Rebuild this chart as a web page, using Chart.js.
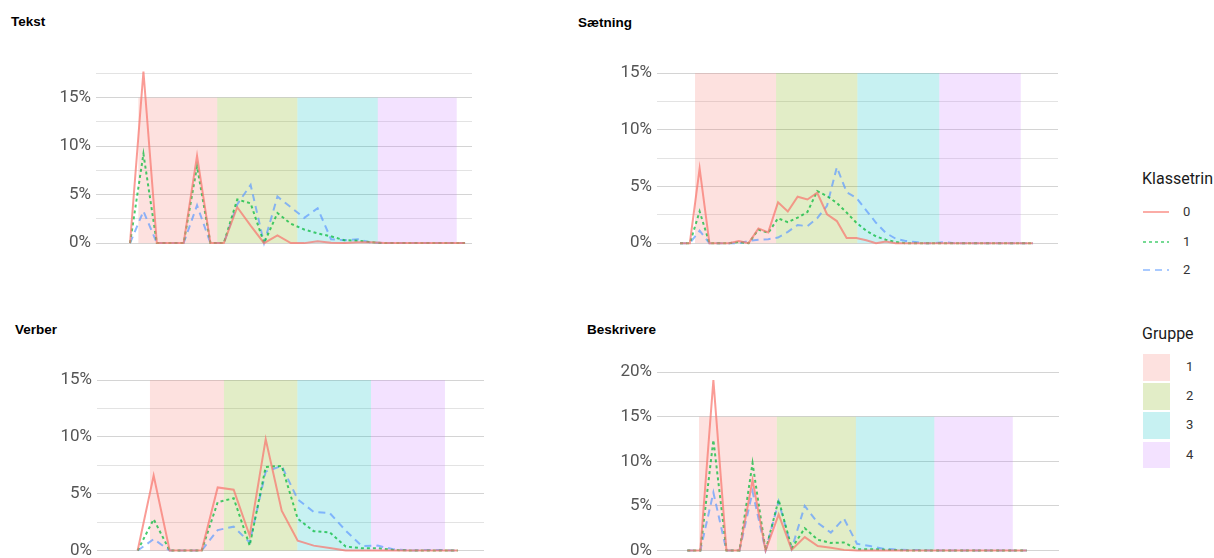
<!DOCTYPE html>
<html lang="da">
<head>
<meta charset="UTF-8">
<title>Klassetrin og grupper</title>
<script src="https://cdn.jsdelivr.net/npm/chart.js"></script>
<style>
  body { margin: 0; background: #fff; }
  #wrap { position: relative; width: 1214px; height: 558px; overflow: hidden; font-family: Roboto, sans-serif; }
  .panel { position: absolute; }
  .title { position: absolute; font: bold 13.5px "Liberation Sans", Arial, sans-serif; line-height: 16px; color: #000; white-space: nowrap; }
  .ltitle { position: absolute; font-size: 16px; line-height: 20px; color: #1a1a1a; }
  .llab { position: absolute; font-size: 13px; line-height: 16px; color: #333; }
  .lkey { position: absolute; }
</style>
</head>
<body>
<div id="wrap">
  <div class="title" style="left:11px; top:14px;">Tekst</div>
  <div class="title" style="left:578px; top:15px;">Sætning</div>
  <div class="title" style="left:15px; top:322px;">Verber</div>
  <div class="title" style="left:587px; top:322px;">Beskrivere</div>

  <div class="panel" style="left:26px; top:53px; width:446px; height:209px;"><canvas id="tekst"></canvas></div>
  <div class="panel" style="left:587px; top:56px; width:471px; height:206px;"><canvas id="saetning"></canvas></div>
  <div class="panel" style="left:27px; top:363px; width:457px; height:206px;"><canvas id="verber"></canvas></div>
  <div class="panel" style="left:587px; top:355px; width:472px; height:214px;"><canvas id="beskrivere"></canvas></div>

  <div id="legend"></div>
</div>
<script>
// legend categories
const klassetrin = ['0', '1', '2'];
const grupper = ['1', '2', '3', '4'];

// Tekst (share in %, per score step)
const tekst0 = [0, 17.7, 0, 0, 0, 9.0, 0, 0, 3.7, 1.8, 0, 0.8, 0, 0, 0.2, 0.05, 0, 0.1, 0.1, 0, 0, 0, 0, 0, 0, 0];
const tekst1 = [0, 9.2, 0, 0, 0, 7.9, 0, 0, 4.5, 4.1, 0, 3.1, 2.0, 1.4, 1.0, 0.7, 0.3, 0.25, 0.1, 0, 0, 0, 0, 0, 0, 0];
const tekst2 = [0, 3.3, 0, 0, 0, 3.9, 0, 0, 4.0, 6.0, 0, 4.8, 3.7, 2.6, 3.6, 0.4, 0.3, 0.4, 0.05, 0, 0, 0, 0, 0, 0, 0];
const tekstGraenser = [0.62, 6.51, 12.49, 18.49, 24.38];

// Sætning
const saetning0 = [0, 0, 6.6, 0, 0, 0, 0.2, 0, 1.3, 0.95, 3.6, 2.8, 4.1, 3.85, 4.45, 2.55, 1.95, 0.45, 0.45, 0.25, 0, 0.15, 0, 0, 0, 0, 0, 0, 0, 0, 0, 0, 0, 0, 0, 0, 0];
const saetning1 = [0, 0, 2.8, 0, 0, 0, 0.1, 0, 1.2, 0.9, 2.2, 1.85, 2.25, 2.75, 4.6, 4.15, 3.55, 2.7, 1.8, 1.1, 0.6, 0.3, 0.1, 0, 0, 0, 0, 0, 0, 0, 0, 0, 0, 0, 0, 0, 0];
const saetning2 = [0, 0, 1.1, 0, 0, 0, 0, 0.2, 0.3, 0.35, 0.5, 1.0, 1.6, 1.5, 2.2, 3.3, 6.7, 4.5, 4.0, 2.9, 1.8, 0.9, 0.4, 0.2, 0.1, 0, 0, 0.1, 0, 0, 0, 0, 0, 0, 0, 0, 0];
const saetningGraenser = [1.53, 9.8, 18.1, 26.46, 34.77];

// Verber
const verber0 = [0, 6.6, 0, 0, 0, 5.55, 5.35, 1.3, 9.8, 3.5, 0.87, 0.43, 0.23, 0, 0, 0, 0, 0, 0, 0, 0];
const verber1 = [0, 2.75, 0, 0, 0, 4.25, 4.6, 0.43, 7.35, 7.45, 2.8, 1.7, 1.6, 0.35, 0.2, 0.2, 0.05, 0, 0, 0, 0];
const verber2 = [0, 1.0, 0, 0, 0, 1.8, 2.1, 0.7, 6.95, 7.45, 4.5, 3.4, 3.3, 1.75, 0.4, 0.43, 0.1, 0, 0.05, 0.05, 0];
const verberGraenser = [0.77, 5.39, 9.98, 14.58, 19.2];

// Beskrivere
const beskrivere0 = [0, 0, 19.1, 0, 0, 7.9, 0, 4.05, 0.1, 1.5, 0.5, 0.3, 0.07, 0, 0, 0, 0, 0, 0, 0, 0, 0, 0, 0, 0, 0, 0];
const beskrivere1 = [0, 0, 12.4, 0, 0, 9.8, 0, 5.7, 0.25, 2.5, 1.2, 0.85, 0.9, 0.15, 0.15, 0.1, 0.05, 0, 0, 0, 0, 0, 0, 0, 0, 0, 0];
const beskrivere2 = [0, 0, 6.5, 0, 0, 6.6, 0, 5.5, 0.2, 5.0, 3.1, 2.0, 3.6, 0.75, 0.5, 0.2, 0.1, 0.05, 0.05, 0, 0, 0, 0, 0, 0, 0, 0];
const beskrivereGraenser = [0.9, 6.86, 12.92, 18.93, 24.94];

const gruppeTop = 15;

const linjeFarver = ['rgba(248,118,109,0.72)', 'rgba(0,186,56,0.72)', 'rgba(97,156,255,0.72)'];
const linjeStreg = [[], [3, 3], [7, 5]];
const gruppeFarver = ['rgba(248,118,109,0.22)', 'rgba(124,174,0,0.22)', 'rgba(0,191,196,0.22)', 'rgba(199,124,255,0.22)'];

// shaded group bands behind the lines
const gruppePlugin = {
  id: 'grupper',
  beforeDatasetsDraw(chart, args, opts) {
    const ctx = chart.ctx;
    const x = chart.scales.x, y = chart.scales.y;
    const b = opts.graenser;
    const yTop = y.getPixelForValue(opts.top), yBund = y.getPixelForValue(0);
    ctx.save();
    for (let g = 0; g < b.length - 1; g++) {
      const x0 = x.getPixelForValue(b[g]);
      const x1 = x.getPixelForValue(b[g + 1]);
      ctx.fillStyle = gruppeFarver[g];
      ctx.fillRect(x0, yTop, x1 - x0, yBund - yTop);
    }
    ctx.restore();
  }
};

function lavPanel(id, serier, graenser, xMin, xMax, yMin, yMax) {
  new Chart(document.getElementById(id), {
    type: 'line',
    data: {
      datasets: serier.map((vals, k) => ({
        label: klassetrin[k],
        data: vals.map((v, i) => ({ x: i, y: v })),
        borderColor: linjeFarver[k],
        borderDash: linjeStreg[k],
        borderWidth: 2,
        pointRadius: 0,
        tension: 0,
        fill: false
      }))
    },
    options: {
      responsive: true,
      maintainAspectRatio: false,
      animation: false,
      layout: { padding: { top: 14, bottom: 14, left: 0, right: 0 } },
      plugins: {
        legend: { display: false },
        tooltip: { enabled: false },
        grupper: { graenser: graenser, top: gruppeTop }
      },
      scales: {
        x: { type: 'linear', display: false, min: xMin, max: xMax },
        y: {
          min: yMin,
          max: yMax,
          afterFit(s) { s.width = 70; },
          afterBuildTicks(s) {
            s.ticks = s.ticks.filter(t => t.value >= 0 && Math.abs(t.value / 2.5 - Math.round(t.value / 2.5)) < 1e-6);
          },
          ticks: {
            stepSize: 2.5,
            includeBounds: false,
            padding: 5,
            color: '#555',
            font: { family: 'Roboto', size: 17 },
            callback: v => (v % 5 === 0 ? v + '%' : '')
          },
          grid: {
            drawTicks: false,
            lineWidth: 1,
            color: c => (c.tick && c.tick.value % 5 === 0 ? '#d4d4d4' : '#e3e3e3')
          },
          border: { display: false }
        }
      }
    },
    plugins: [gruppePlugin]
  });
}

lavPanel('tekst', [tekst0, tekst1, tekst2], tekstGraenser, -2.54, 25.52, -0.38, 18.04);
lavPanel('saetning', [saetning0, saetning1, saetning2], saetningGraenser, -2.35, 38.57, -0.32, 15.17);
lavPanel('verber', [verber0, verber1, verber2], verberGraenser, -2.54, 21.64, -0.29, 15.17);
lavPanel('beskrivere', [beskrivere0, beskrivere1, beskrivere2], beskrivereGraenser, -2.32, 28.48, -0.37, 20.22);

// legend
const leg = document.getElementById('legend');
let html = '<div class="ltitle" style="left:1142px; top:169px;">Klassetrin</div>';
const linjeY = [212, 242, 270];
klassetrin.forEach((k, i) => {
  const dash = linjeStreg[i].length ? 'stroke-dasharray="' + linjeStreg[i].join(' ') + '"' : '';
  html += '<svg class="lkey" style="left:1143px; top:' + (linjeY[i] - 5) + 'px;" width="26" height="10">' +
    '<line x1="0" y1="5" x2="26" y2="5" stroke="' + linjeFarver[i] + '" stroke-width="1.7" ' + dash + '/></svg>';
  html += '<div class="llab" style="left:1183px; top:' + (linjeY[i] - 8) + 'px;">' + k + '</div>';
});
html += '<div class="ltitle" style="left:1142px; top:324px;">Gruppe</div>';
const boksTop = [354, 383, 412, 441.5];
grupper.forEach((g, i) => {
  html += '<div class="lkey" style="left:1143px; top:' + boksTop[i] + 'px; width:27px; height:26.5px; background:' + gruppeFarver[i] + ';"></div>';
  html += '<div class="llab" style="left:1186px; top:' + (boksTop[i] + 13 - 8) + 'px;">' + g + '</div>';
});
leg.innerHTML = html;
</script>
</body>
</html>
